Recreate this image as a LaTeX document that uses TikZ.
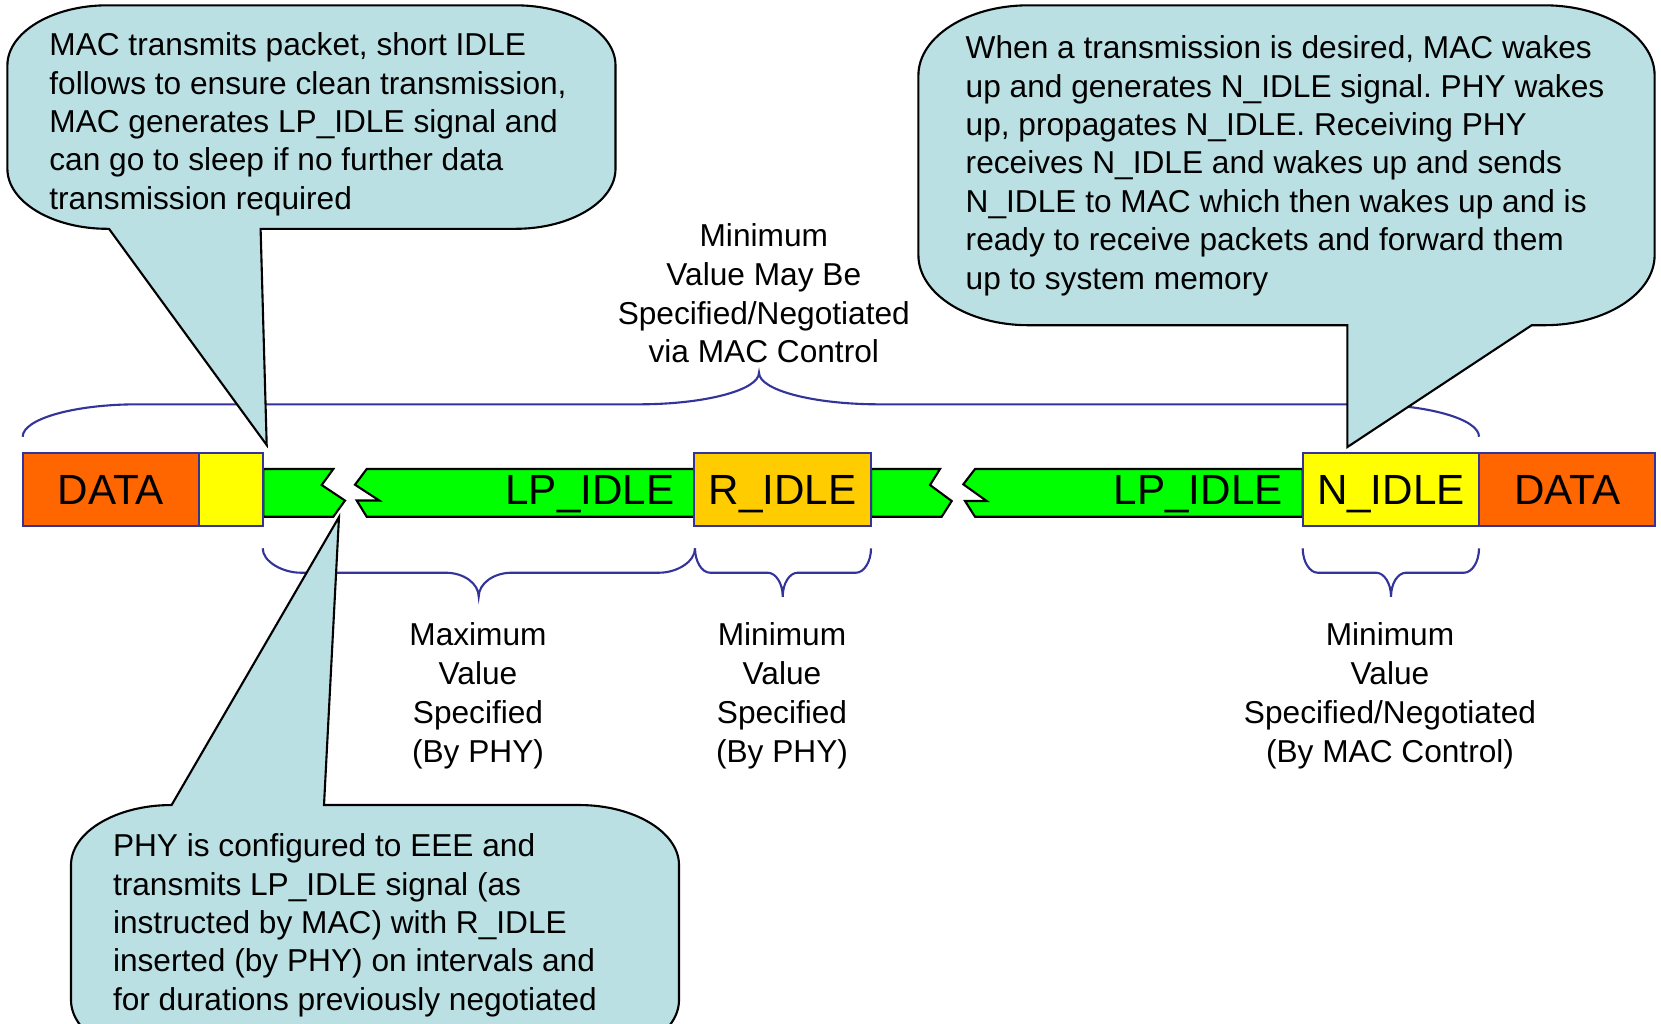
\documentclass[tikz,border=0pt]{standalone}
\usepackage{fontspec}
\setmainfont{Liberation Sans}
\usetikzlibrary{positioning}
\definecolor{dataorange}{HTML}{FF6600}
\definecolor{idleyellow}{HTML}{FFFF00}
\definecolor{lpgreen}{HTML}{00FF00}
\definecolor{ridleorange}{HTML}{FFCC00}
\definecolor{callblue}{HTML}{BBE0E3}
\definecolor{edgeblue}{HTML}{333399}
\frenchspacing

\begin{document}
\begin{tikzpicture}[x=0.01cm, y=-0.01cm]
      \tikzstyle{blknode} = [draw=edgeblue, line width=0.6pt, inner sep=0pt, outer sep=0pt, minimum height=0.73cm, text height=8.6pt, text depth=0pt, font=\fontsize{12}{14}\selectfont]
      \tikzstyle{strip} = [draw=black, line width=0.6pt, fill=lpgreen]
      \tikzstyle{callout} = [draw=black, line width=0.6pt, fill=callblue]
      \tikzstyle{brc} = [draw=edgeblue, line width=0.6pt]
      \tikzstyle{txtnode} = [inner sep=0pt, align=left, anchor=north west, font=\fontsize{9}{10.93}\selectfont]
      \tikzstyle{lblnode} = [inner sep=0pt, align=center, anchor=north, font=\fontsize{9}{11.07}\selectfont]

      \useasboundingbox (0,0) rectangle (1661,1023);
      \clip (0,0) rectangle (1661,1023);

      % braces
      \draw[brc] (22.7,436.7) .. controls (22.7,419) and (74,404.3) .. (137.7,404.3) -- (639,404.3)
        .. controls (705,404.3) and (759,390) .. (759,372.7)
        .. controls (759,390) and (813,404.3) .. (879,404.3) -- (1364,404.3)
        .. controls (1427,404.3) and (1479,419) .. (1479,436.7);
      \draw[brc] (262.7,548.3) .. controls (262.7,561.7) and (282.7,572.7) .. (300.7,572.7) -- (445.7,572.7)
        .. controls (463.8,572.7) and (478.7,583.5) .. (478.7,596.7)
        .. controls (478.7,583.5) and (493.6,572.7) .. (511.7,572.7) -- (659,572.7)
        .. controls (677,572.7) and (695,561.7) .. (695,548.3);
      \draw[brc] (695,548.3) .. controls (695,561.7) and (702,572.7) .. (710,572.7) -- (767.7,572.7)
        .. controls (776,572.7) and (782.7,583.5) .. (782.7,596.7)
        .. controls (782.7,583.5) and (789.4,572.7) .. (797.7,572.7) -- (856,572.7)
        .. controls (864,572.7) and (871,561.7) .. (871,548.3);
      \draw[brc] (1302.7,548.3) .. controls (1302.7,561.7) and (1309.7,572.7) .. (1317.7,572.7) -- (1376,572.7)
        .. controls (1384.3,572.7) and (1391,583.5) .. (1391,596.7)
        .. controls (1391,583.5) and (1397.7,572.7) .. (1406,572.7) -- (1464,572.7)
        .. controls (1472,572.7) and (1479,561.7) .. (1479,548.3);

      % green LP_IDLE strips with breaks
      \draw[strip] (263.3,469) -- (333.3,469) -- (321.7,485) -- (345,500.5) -- (333.3,516.7) -- (263.3,516.7) -- cycle;
      \draw[strip] (366.7,469) -- (694.3,469) -- (694.3,516.7) -- (366.7,516.7) -- (356.7,500.5) -- (379.3,500.5) -- (355,484.7) -- cycle;
      \draw[strip] (871,469) -- (940,469) -- (930,485) -- (951.7,501) -- (941.7,516.7) -- (871,516.7) -- cycle;
      \draw[strip] (975,469) -- (1302.7,469) -- (1302.7,516.7) -- (975,516.7) -- (965,501) -- (986.7,501) -- (963.3,484.3) -- cycle;

      \node[blknode, fill=dataorange, minimum width=1.763cm, anchor=west] (data1) at (22.7,489.2) {DATA};
      \node[blknode, fill=idleyellow, minimum width=0.643cm, anchor=west] (short) at (data1.east) {};
      \node[blknode, fill=ridleorange, minimum width=1.767cm, anchor=west] (ridle) at (694.3,489.2) {R\_IDLE};
      \node[blknode, fill=idleyellow, minimum width=1.763cm, anchor=west] (nidle) at (1302.7,489.2) {N\_IDLE};
      \node[blknode, fill=dataorange, minimum width=1.76cm, anchor=west] (data2) at (nidle.east) {DATA};
      \node[blknode, draw=none, anchor=east, left=0.2cm of ridle] (lp1) {LP\_IDLE};
      \node[blknode, draw=none, anchor=east, left=0.2cm of nidle] (lp2) {LP\_IDLE};

      % callouts
      \draw[callout] (7.4,65.3) .. controls (7.4,32.3) and (52.4,5.3) .. (107.4,5.3)
        -- (515.5,5.3) .. controls (570.5,5.3) and (615.5,32.3) .. (615.5,65.3)
        -- (615.5,168.8) .. controls (615.5,201.8) and (570.5,228.8) .. (515.5,228.8)
        -- (260.6,228.8) -- (266.7,445) -- (109,228.8) -- (107.4,228.8)
        .. controls (52.4,228.8) and (7.4,201.8) .. (7.4,168.8) -- cycle;
      \draw[callout] (918.4,75.3) .. controls (918.4,36.8) and (967.9,5.3) .. (1028.4,5.3)
        -- (1544.6,5.3) .. controls (1605.1,5.3) and (1654.6,36.8) .. (1654.6,75.3)
        -- (1654.6,255.2) .. controls (1654.6,293.7) and (1605.1,325.2) .. (1544.6,325.2)
        -- (1531.7,325.2) -- (1347.4,447) -- (1347.4,325.2) -- (1028.4,325.2)
        .. controls (967.9,325.2) and (918.4,293.7) .. (918.4,255.2) -- cycle;
      \draw[callout] (71,865) .. controls (71,832) and (116,805) .. (171.6,805)
        -- (339,517) -- (324,805) -- (579,805) .. controls (634,805) and (679,832) .. (679,865)
        -- (679,1000) .. controls (679,1033) and (634,1060) .. (579,1060)
        -- (171,1060) .. controls (116,1060) and (71,1033) .. (71,1000) -- cycle;

      \node[txtnode] (sleep) at (48.7,32) {MAC transmits packet, short IDLE\\
        follows to ensure clean transmission,\\
        MAC generates LP\_IDLE signal and\\
        can go to sleep if no further data\\
        transmission required};
      \node[txtnode] (wake) at (965,35) {When a transmission is desired, MAC wakes\\
        up and generates N\_IDLE signal. PHY wakes\\
        up, propagates N\_IDLE. Receiving PHY\\
        receives N\_IDLE and wakes up and sends\\
        N\_IDLE to MAC which then wakes up and is\\
        ready to receive packets and forward them\\
        up to system memory};
      \node[txtnode] (eee) at (112.3,833) {PHY is configured to EEE and\\
        transmits LP\_IDLE signal (as\\
        instructed by MAC) with R\_IDLE\\
        inserted (by PHY) on intervals and\\
        for durations previously negotiated};

      % brace labels
      \node[lblnode] (toplbl) at (763.8,222.5) {Minimum\\Value May Be\\Specified/Negotiated\\via MAC Control};
      \node[lblnode] (maxlbl) at (478,622) {Maximum\\Value\\Specified\\(By PHY)};
      \node[lblnode] (minlbl) at (782,622) {Minimum\\Value\\Specified\\(By PHY)};
      \node[lblnode] (nlbl) at (1390,622) {Minimum\\Value\\Specified/Negotiated\\(By MAC Control)};
\end{tikzpicture}
\end{document}
